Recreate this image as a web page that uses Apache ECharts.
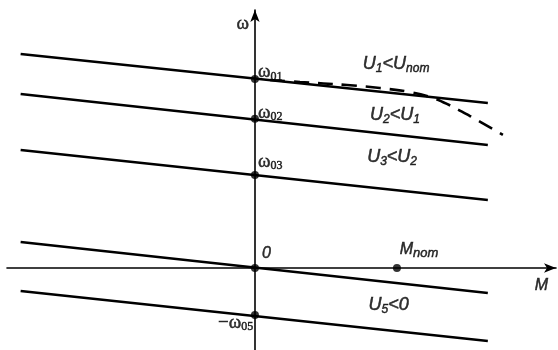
<!DOCTYPE html>
<html>
<head>
<meta charset="utf-8">
<script src="https://cdn.jsdelivr.net/npm/echarts@6/dist/echarts.min.js"></script>
<style>
  html, body { margin: 0; padding: 0; background: #fff; }
  #chart { width: 558px; height: 350px; }
</style>
</head>
<body>
<div id="chart"></div>
<script>
// Mechanical characteristics ω(M) of a DC motor for decreasing armature voltage.
// M in units of M_nom, ω in percent of ω01.
const mRange = [-1.65, 1.64];               // torque span of each characteristic
const char1 = [113.2, 87.3];                // U1 < Unom
const char2 = [92.1, 65.1];                 // U2 < U1
const char3 = [62.4, 36.0];                 // U3 < U2
const char4 = [13.8, -13.2];                // through the origin
const char5 = [-12.2, -38.6];               // U5 < 0

// natural characteristic bending away at high torque (dashed)
const naturalM = [0.106, 0.317, 0.648, 0.880, 1.092, 1.232, 1.352, 1.514, 1.746];
const naturalW = [99.5, 98.4, 96.8, 95.2, 93.1, 90.5, 86.8, 80.4, 70.4];

// marked points: idle speeds, origin, nominal torque
const markM = [0, 0, 0, 0, 0, 1.0];
const markW = [100, 79, 49.2, 0, -24.9, 0];

// text annotations [M, ω, text, side]
const notes = [
  [-0.085, 129, '{w|ω}', 'c'],
  [0.021, 103.5, '{w|ω}{s|01}', 'r'],
  [0.021, 82, '{w|ω}{s|02}', 'r'],
  [0.021, 56, '{w|ω}{s|03}', 'r'],
  [-0.012, -29, '{w|−ω}{s|05}', 'l'],
  [0.05, 7.4, '{i|0}', 'r'],
  [1.02, 9.5, '{m|M}{ms|nom}', 'r'],
  [1.97, -9.5, '{m|M}', 'r'],
  [0.76, 108, '{u|U}{us|1}{u|<U}{us|nom}', 'r'],
  [0.81, 81, '{u|U}{us|2}{u|<U}{us|1}', 'r'],
  [0.79, 58.7, '{u|U}{us|3}{u|<U}{us|2}', 'r'],
  [0.80, -19.6, '{u|U}{us|5}{u|<0}', 'r']
];

const lineStyle = { color: '#000', width: 2.5 };
function charSeries(vals) {
  return {
    type: 'line', silent: true, symbol: 'none', lineStyle: lineStyle,
    data: [[mRange[0], vals[0]], [mRange[1], vals[1]]]
  };
}

const serif = '"Liberation Serif", "DejaVu Serif", serif';
const sans = '"Liberation Sans", Arial, sans-serif';
const ink = { color: '#000', textBorderColor: '#000', textBorderWidth: 0.5 };
const rich = {
  w: Object.assign({ fontFamily: serif, fontSize: 19, lineHeight: 20, verticalAlign: 'middle' }, ink),
  s: Object.assign({ fontFamily: serif, fontSize: 12, lineHeight: 12, verticalAlign: 'bottom' }, ink),
  i: Object.assign({ fontFamily: sans, fontStyle: 'italic', fontSize: 16 }, ink),
  m: Object.assign({ fontFamily: sans, fontStyle: 'italic', fontSize: 16, lineHeight: 20, verticalAlign: 'middle' }, ink),
  ms: Object.assign({ fontFamily: sans, fontStyle: 'italic', fontSize: 13, lineHeight: 12, verticalAlign: 'bottom' }, ink),
  u: Object.assign({ fontFamily: sans, fontStyle: 'italic', fontSize: 18, lineHeight: 22, verticalAlign: 'middle' }, ink),
  us: Object.assign({ fontFamily: sans, fontStyle: 'italic', fontSize: 12, lineHeight: 12, verticalAlign: 'bottom' }, ink)
};

const chart = echarts.init(document.getElementById('chart'), null, { renderer: 'canvas' });
chart.setOption({
  animation: false,
  backgroundColor: '#fff',
  grid: { left: 7, right: 2, top: 10, bottom: 0 },
  xAxis: {
    type: 'value', min: -1.746, max: 2.120,
    axisLine: { onZero: true, lineStyle: { color: '#000', width: 1.6 }, symbol: ['none', 'arrow'], symbolSize: [7, 12] },
    axisTick: { show: false }, axisLabel: { show: false }, splitLine: { show: false }
  },
  yAxis: {
    type: 'value', min: -43.4, max: 136.5,
    axisLine: { onZero: true, lineStyle: { color: '#000', width: 1.6 }, symbol: ['none', 'arrow'], symbolSize: [7, 12] },
    axisTick: { show: false }, axisLabel: { show: false }, splitLine: { show: false }
  },
  series: [
    charSeries(char1),
    charSeries(char2),
    charSeries(char3),
    charSeries(char4),
    charSeries(char5),
    {
      type: 'line', silent: true, symbol: 'none', smooth: 0.4,
      lineStyle: { color: '#000', width: 2.6, type: [15, 9] },
      data: naturalM.map((m, i) => [m, naturalW[i]])
    },
    {
      type: 'scatter', silent: true, symbol: 'circle', symbolSize: 8,
      itemStyle: { color: '#000' },
      data: markM.map((m, i) => [m, markW[i]])
    },
    {
      type: 'scatter', silent: true, symbolSize: 0,
      data: notes.map(n => ({
        value: [n[0], n[1]],
        label: {
          show: true,
          position: n[3] === 'r' ? 'right' : (n[3] === 'l' ? 'left' : 'inside'),
          distance: 0,
          formatter: n[2],
          rich: rich
        }
      }))
    }
  ]
});
</script>
</body>
</html>
